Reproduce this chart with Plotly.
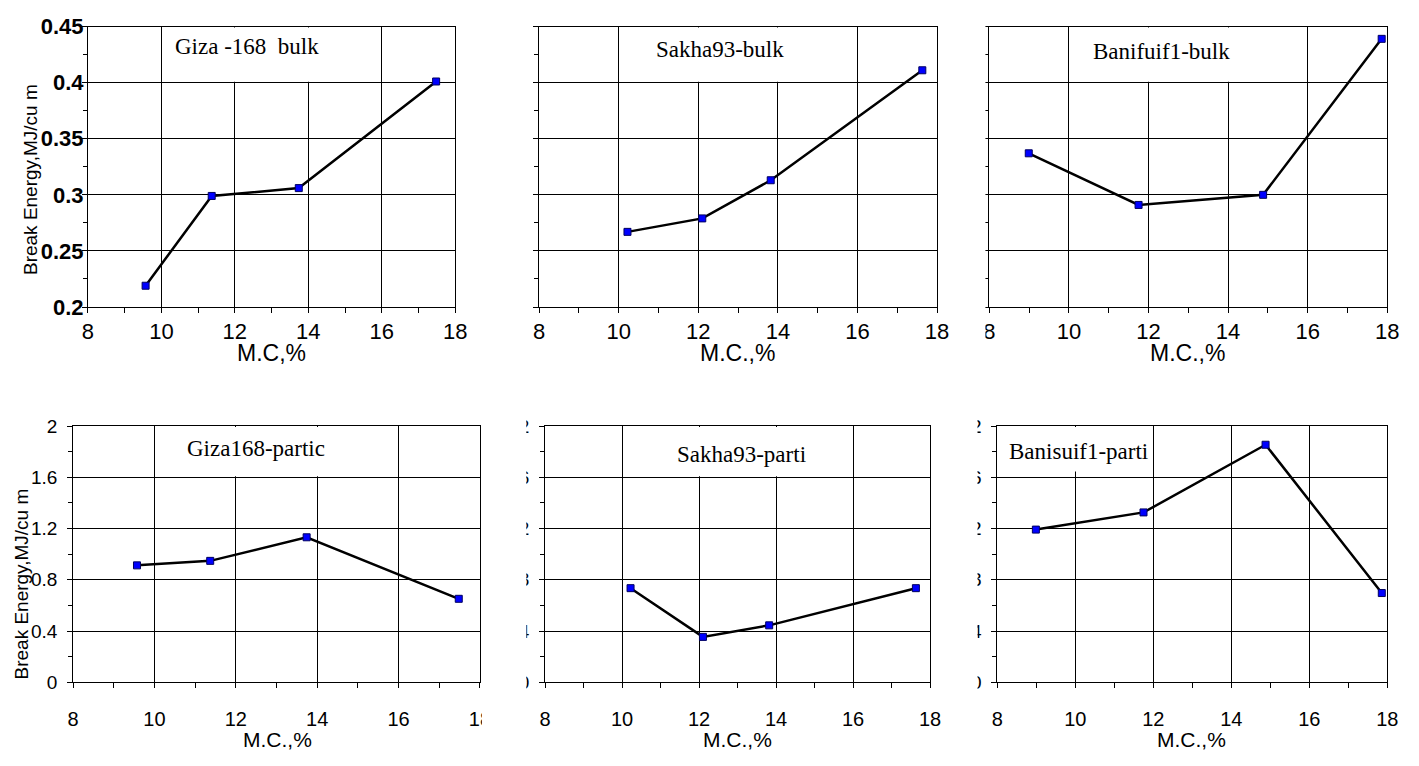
import plotly.graph_objects as go

# Moisture content (%) for each variety
giza_mc = [9.57, 11.37, 13.74, 17.48]
sakha_mc = [10.22, 12.10, 13.82, 17.63]
bani_mc = [8.99, 11.75, 14.88, 17.86]

# Break energy, MJ/cu m
giza_bulk = [0.219, 0.299, 0.306, 0.401]
sakha_bulk = [0.267, 0.279, 0.313, 0.411]
bani_bulk = [0.337, 0.291, 0.300, 0.439]
giza_part = [0.913, 0.948, 1.132, 0.652]
sakha_part = [0.735, 0.355, 0.445, 0.735]
bani_part = [1.192, 1.326, 1.854, 0.697]

panel_names = ["Giza -168\u00a0\u00a0bulk", "Sakha93-bulk", "Banifuif1-bulk",
               "Giza168-partic", "Sakha93-parti", "Banisuif1-parti"]

x_ticks = [8, 10, 12, 14, 16, 18]
bulk_ticks = [0.2, 0.25, 0.3, 0.35, 0.4, 0.45]
bulk_ticktext = ["0.2", "0.25", "0.3", "0.35", "0.4", "0.45"]
part_ticks = [0, 0.4, 0.8, 1.2, 1.6, 2]
part_ticktext = ["0", "0.4", "0.8", "1.2", "1.6", "2"]

W, H = 1419, 766
SANS = "Liberation Sans"
SERIF = "Liberation Serif"


def px_x(v):
    return v / W


def px_y(v):
    return 1 - v / H


# plot-area boxes in pixels: (left, right, top, bottom)
boxes = [
    (83, 455, 15, 305),
    (540, 943, 15, 305),
    (996, 1399, 15, 305),
    (68, 480, 428, 693),
    (546, 936, 428, 693),
    (1004, 1399, 428, 693),
]

series = [
    (giza_mc, giza_bulk), (sakha_mc, sakha_bulk), (bani_mc, bani_bulk),
    (giza_mc, giza_part), (sakha_mc, sakha_part), (bani_mc, bani_part),
]

fig = go.Figure()

for i, ((xs, ys), (l, r, t, b)) in enumerate(zip(series, boxes)):
    n = i + 1
    xa = "x" if n == 1 else f"x{n}"
    ya = "y" if n == 1 else f"y{n}"
    fig.add_trace(go.Scatter(
        x=xs, y=ys, xaxis=xa, yaxis=ya, mode="lines+markers",
        line=dict(color="black", width=2.5),
        marker=dict(symbol="square", size=7, color="#0000FF",
                    line=dict(color="#000060", width=1)),
        showlegend=False, hoverinfo="skip",
    ))
    top = i < 3
    xkey = "xaxis" if n == 1 else f"xaxis{n}"
    ykey = "yaxis" if n == 1 else f"yaxis{n}"
    fig.layout[xkey] = dict(
        domain=[px_x(l), px_x(r)], anchor=ya, range=[8, 18],
        tickvals=x_ticks, ticktext=[str(v) for v in x_ticks],
        showgrid=True, gridcolor="black", gridwidth=1,
        showline=True, linecolor="black", linewidth=1, mirror=True,
        ticks="outside", ticklen=5, tickcolor="black",
        minor=dict(dtick=1, ticks="outside", ticklen=5, tickcolor="black", showgrid=False),
        tickfont=dict(family=SANS, size=22 if top else 20, color="black"),
        ticklabelstandoff=0 if top else 14,
        zeroline=False, fixedrange=True,
    )
    fig.layout[ykey] = dict(
        domain=[px_y(b), px_y(t)], anchor=xa,
        range=[0.2, 0.45] if top else [0, 2],
        tickvals=bulk_ticks if top else part_ticks,
        ticktext=bulk_ticktext if top else part_ticktext,
        showgrid=True, gridcolor="black", gridwidth=1,
        showline=True, linecolor="black", linewidth=1, mirror=True,
        ticks="outside", ticklen=5, tickcolor="black",
        minor=dict(dtick=0.025 if top else 0.2, ticks="outside", ticklen=4,
                   tickcolor="black", showgrid=False),
        tickfont=dict(family=SANS, size=22 if top else 19, color="black",
                      weight="bold" if top else "normal"),
        ticklabelstandoff=-6 if top else 6,
        showticklabels=(n not in (2, 3)),
        zeroline=False, fixedrange=True,
    )

shapes = []
annotations = []

# white label boxes inside each panel (hide the grid behind the name)
label_boxes = [
    (160, 320, 16, 72, 244, 36),
    (652, 790, 16, 72, 723, 39),
    (1095, 1245, 16, 72, 1170, 41),
    (160, 330, 429, 480, 253, 451),
    (672, 815, 429, 480, 745, 457),
    (1005, 1160, 429, 475, 1086, 454),
]
for name, (x0, x1, y0, y1, cx, cy) in zip(panel_names, label_boxes):
    shapes.append(dict(type="rect", xref="paper", yref="paper",
                       x0=px_x(x0), x1=px_x(x1), y0=px_y(y1), y1=px_y(y0),
                       fillcolor="white", line=dict(width=0), layer="above"))
    annotations.append(dict(text=name, xref="paper", yref="paper",
                            x=px_x(cx), y=px_y(cy), xanchor="center", yanchor="middle",
                            showarrow=False, font=dict(family=SERIF, size=23, color="black")))

# panel edges trimmed where neighbouring charts meet
for x0, x1, y0, y1 in [(956, 992, 0, 400), (482, 527, 400, 766), (950, 984, 410, 705)]:
    shapes.append(dict(type="rect", xref="paper", yref="paper",
                       x0=px_x(x0), x1=px_x(x1), y0=px_y(y1), y1=px_y(y0),
                       fillcolor="white", line=dict(width=0), layer="above"))

# x-axis titles
x_titles = [("M.C,%", 269, 352, 23), ("M.C.,%", 741, 352, 23), ("M.C.,%", 1197, 352, 23),
            ("M.C.,%", 275, 752, 21), ("M.C.,%", 741, 752, 21), ("M.C.,%", 1201, 752, 21)]
for txt, cx, cy, sz in x_titles:
    annotations.append(dict(text=txt, xref="paper", yref="paper", x=px_x(cx), y=px_y(cy),
                            xanchor="center", yanchor="middle", showarrow=False,
                            font=dict(family=SANS, size=sz, color="black")))

# y-axis titles
for cx, cy in [(25, 173), (16, 591)]:
    annotations.append(dict(text="Break Energy,MJ/cu m", xref="paper", yref="paper",
                            x=px_x(cx), y=px_y(cy), xanchor="center", yanchor="middle",
                            textangle=-90, showarrow=False,
                            font=dict(family=SANS, size=19, color="black")))

fig.update_layout(
    width=W, height=H, margin=dict(l=0, r=0, t=0, b=0),
    paper_bgcolor="white", plot_bgcolor="white",
    shapes=shapes, annotations=annotations,
)

fig.write_html("out.html", config={"displayModeBar": False})
